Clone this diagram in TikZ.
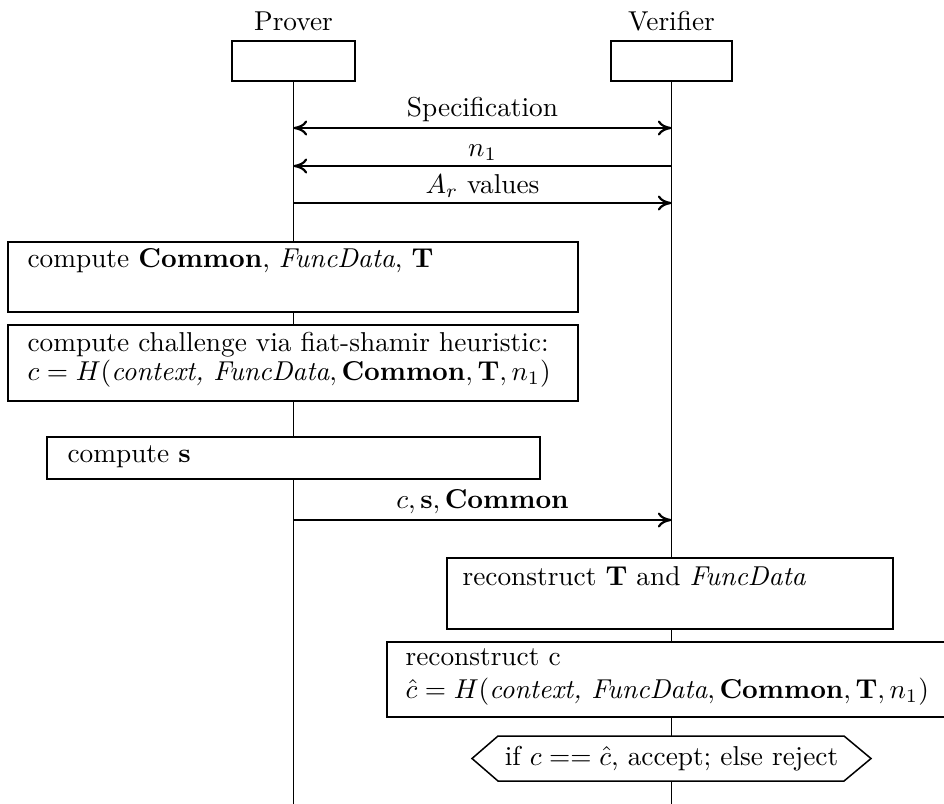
\documentclass[tikz,border=0pt]{standalone}
\usetikzlibrary{arrows.meta,fit}
\begin{document}
\begin{tikzpicture}[x=0.366pt,y=-0.366pt,
  box/.style={draw, fill=white, line width=0.55pt, inner sep=0pt},
  txt/.style={anchor=base west, inner sep=0pt},
  lbl/.style={anchor=base, inner sep=0pt},
  msglbl/.style={above, inner sep=1.7pt},
  life/.style={line width=0.55pt},
  msg/.style={line width=0.8pt, -{Computer Modern Rightarrow[length=5pt,width=5.5pt]}},
  dmsg/.style={line width=0.8pt, {Computer Modern Rightarrow[length=5pt,width=5.5pt]}-{Computer Modern Rightarrow[length=5pt,width=5.5pt]}}]
\useasboundingbox (0,0) rectangle (944,803);
\clip (0,0) rectangle (944,803);
% actors
\node[lbl] (plabel) at (293.5,30) {Prover};
\node[lbl] (vlabel) at (671.5,30) {Verifier};
\node[box, fit={(232,41) (355,81)}] (pbox) {};
\node[box, fit={(611,41) (732,81)}] (vbox) {};
\coordinate (pend) at (293.5,805);
\coordinate (vend) at (671.5,805);
\draw[life] (pbox.south) -- (pend);
\draw[life] (vbox.south) -- (vend);
% messages
\coordinate (p1) at (293.5,128); \coordinate (v1) at (671.5,128);
\coordinate (p2) at (293.5,166); \coordinate (v2) at (671.5,166);
\coordinate (p3) at (293.5,203); \coordinate (v3) at (671.5,203);
\coordinate (p4) at (293.5,520); \coordinate (v4) at (671.5,520);
\draw[dmsg] (p1) -- node[msglbl] (m1) {Specification} (v1);
\draw[msg] (v2) -- node[msglbl] (m2) {$n_1$} (p2);
\draw[msg] (p3) -- node[msglbl] (m3) {$A_r$ values} (v3);
\draw[msg] (p4) -- node[msglbl] (m4) {$c, \mathbf{s}, \mathbf{Common}$} (v4);
% prover boxes
\node[box, fit={(8,242) (578,312)}] (b1) {};
\node[txt] (t1) at (27,267) {compute \textbf{Common}, \textit{FuncData}, \textbf{T}};
\node[box, fit={(8,325) (578,401)}] (b2) {};
\node[txt] (t2a) at (27,351) {compute challenge via fiat-shamir heuristic:};
\node[txt] (t2b) at (27,380) {$c = H(\textit{context, FuncData}, \mathbf{Common}, \mathbf{T}, n_1)$};
\node[box, fit={(47,437) (540,479)}] (b3) {};
\node[txt] (t3) at (67,462) {compute \textbf{s}};
% verifier boxes
\node[box, fit={(447,558) (893,629)}] (b4) {};
\node[txt] (t4) at (462,585) {reconstruct \textbf{T} and \textit{FuncData}};
\node[box, fit={(387,642) (950,717)}] (b5) {};
\node[txt] (t5a) at (405,665) {reconstruct c};
\node[txt] (t5b) at (405,698) {$\hat{c} = H(\textit{context, FuncData}, \mathbf{Common}, \mathbf{T}, n_1)$};
% decision
\draw[line width=0.55pt, fill=white] (472,758.5) -- (498,736) -- (844,736) -- (871,758.5) -- (844,781) -- (498,781) -- cycle;
\node[inner sep=0pt] (hx) at (671.5,758.5) {if $c == \hat{c}$, accept; else reject};
\end{tikzpicture}
\end{document}
